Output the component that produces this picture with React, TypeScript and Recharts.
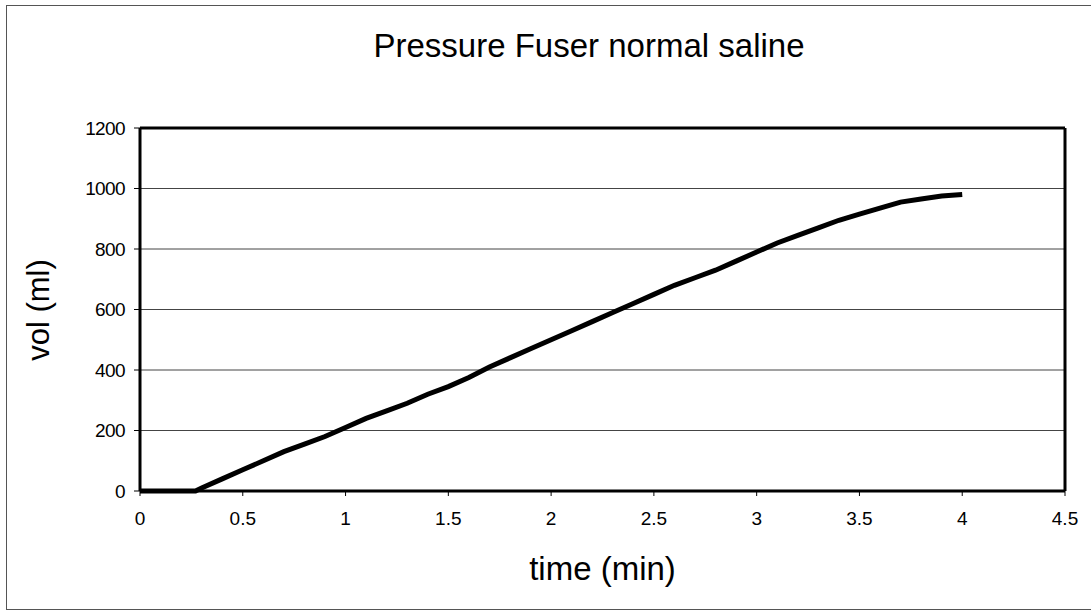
import React from 'react';
import { LineChart, Line, XAxis, YAxis, CartesianGrid, ReferenceLine } from 'recharts';

// time (min) and volume (ml)
const times = [
  0, 0.1, 0.2, 0.27, 0.3, 0.4, 0.5, 0.6, 0.7, 0.8, 0.9, 1.0, 1.1, 1.2, 1.3, 1.4, 1.5,
  1.6, 1.7, 1.8, 1.9, 2.0, 2.1, 2.2, 2.3, 2.4, 2.5, 2.6, 2.7, 2.8, 2.9, 3.0, 3.1,
  3.2, 3.3, 3.4, 3.5, 3.6, 3.7, 3.8, 3.9, 4.0,
];
const volumes = [
  0, 0, 0, 0, 10, 40, 70, 100, 130, 155, 180, 210, 240, 265, 290, 320, 345,
  375, 410, 440, 470, 500, 530, 560, 590, 620, 650, 680, 705, 730, 760, 790, 820,
  845, 870, 895, 915, 935, 955, 965, 975, 980,
];
const xTicks = [0, 0.5, 1, 1.5, 2, 2.5, 3, 3.5, 4, 4.5];
const yTicks = [0, 200, 400, 600, 800, 1000, 1200];

const data = times.map((t, i) => ({ t, v: volumes[i] }));

const font = 'Arial, "Liberation Sans", sans-serif';

const App: React.FC = () => {
  return (
    <div
      style={{
        position: 'absolute',
        left: 0,
        top: 0,
        width: 1091,
        height: 615,
        background: '#fff',
        fontFamily: font,
        overflow: 'hidden',
      }}
    >
      <div
        style={{
          position: 'absolute',
          left: 6,
          top: 5,
          width: 1095,
          height: 603,
          border: '1.5px solid #555',
        }}
      />
      <div
        style={{
          position: 'absolute',
          left: 89,
          width: 1000,
          top: 27,
          textAlign: 'center',
          fontSize: 33,
          color: '#000',
        }}
      >
        Pressure Fuser normal saline
      </div>
      <div
        style={{
          position: 'absolute',
          left: 140,
          width: 925,
          top: 550,
          textAlign: 'center',
          fontSize: 33,
          color: '#000',
        }}
      >
        time (min)
      </div>
      <div
        style={{
          position: 'absolute',
          left: 39,
          top: 310,
          transform: 'translate(-50%, -50%) rotate(-90deg)',
          fontSize: 31,
          whiteSpace: 'nowrap',
          color: '#000',
        }}
      >
        vol (ml)
      </div>
      <LineChart
        width={1091}
        height={615}
        data={data}
        margin={{ top: 128, right: 26, bottom: 84, left: 0 }}
        style={{ position: 'absolute', left: 0, top: 0 }}
      >
        <CartesianGrid vertical={false} stroke="#444" strokeWidth={1} />
        <XAxis
          dataKey="t"
          type="number"
          domain={[0, 4.5]}
          ticks={xTicks}
          height={40}
          tickSize={5}
          tickMargin={16}
          axisLine={{ stroke: '#000', strokeWidth: 3 }}
          tickLine={{ stroke: '#000' }}
          tick={{ fill: '#000', fontSize: 19, fontFamily: font }}
        />
        <YAxis
          type="number"
          domain={[0, 1200]}
          ticks={yTicks}
          width={140}
          tickSize={6}
          tickMargin={9}
          axisLine={{ stroke: '#000', strokeWidth: 3 }}
          tickLine={{ stroke: '#000' }}
          tick={{ fill: '#000', fontSize: 19, fontFamily: font, letterSpacing: -0.6 }}
        />
        <ReferenceLine y={1200} stroke="#000" strokeWidth={3} />
        <ReferenceLine x={4.5} stroke="#000" strokeWidth={3} />
        <Line
          dataKey="v"
          type="linear"
          stroke="#000"
          strokeWidth={5}
          dot={false}
          isAnimationActive={false}
        />
      </LineChart>
    </div>
  );
};

export default App;
